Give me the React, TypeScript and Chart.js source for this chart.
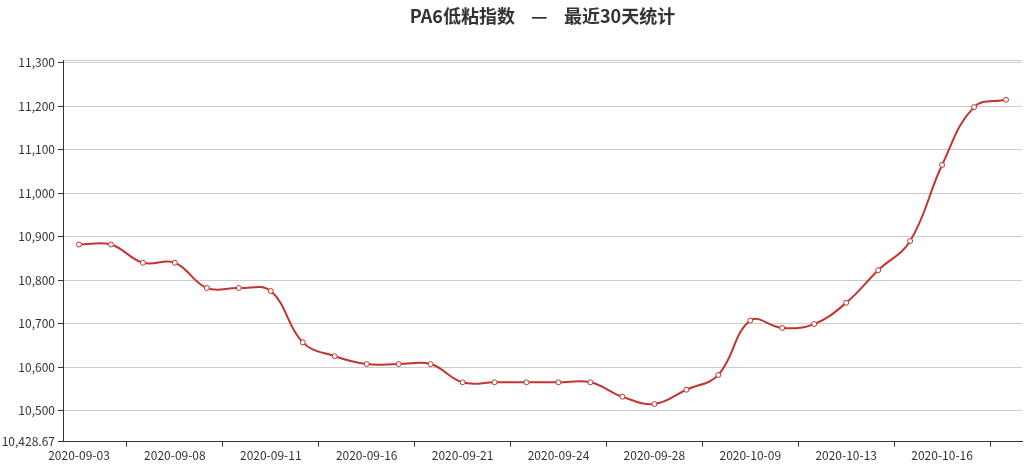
import React, { useEffect, useRef } from "react";
import { Chart, registerables } from "chart.js";

Chart.register(...registerables);

const dates = [
  "2020-09-03", "2020-09-04", "2020-09-07", "2020-09-08", "2020-09-09", "2020-09-10",
  "2020-09-11", "2020-09-14", "2020-09-15", "2020-09-16", "2020-09-17", "2020-09-18",
  "2020-09-21", "2020-09-22", "2020-09-23", "2020-09-24", "2020-09-25", "2020-09-27",
  "2020-09-28", "2020-09-29", "2020-09-30", "2020-10-09", "2020-10-10", "2020-10-12",
  "2020-10-13", "2020-10-14", "2020-10-15", "2020-10-16", "2020-10-19", "2020-10-20",
];

const indexValues = [
  10882, 10882, 10840, 10840, 10782, 10782,
  10775, 10657, 10625, 10607, 10607, 10607,
  10565, 10565, 10565, 10565, 10565, 10532,
  10515, 10548, 10582, 10707, 10690, 10699,
  10748, 10823, 10890, 11065, 11198, 11215,
];

const yMin = 10428.67;
const yMax = 11305;
const yTickValues = [10500, 10600, 10700, 10800, 10900, 11000, 11100, 11200, 11300];

const titleText = "PA6低粘指数    —    最近30天统计";
const FONT = "'Noto Sans CJK SC', 'Microsoft YaHei', sans-serif";

export default function App() {
  const ref = useRef<HTMLCanvasElement>(null);

  useEffect(() => {
    document.body.style.margin = "0";
    const canvas = ref.current;
    if (!canvas) return;
    const chart = new Chart(canvas, {
      type: "line",
      data: {
        labels: dates,
        datasets: [
          {
            label: "PA6低粘指数",
            data: indexValues,
            borderColor: "#c23531",
            backgroundColor: "#ffffff",
            borderWidth: 2,
            tension: 0.4,
            pointRadius: 2.5,
            pointBorderWidth: 1,
            pointBackgroundColor: "#ffffff",
            pointBorderColor: "#c23531",
            fill: false,
          },
        ],
      },
      options: {
        animation: false,
        responsive: false,
        layout: { padding: { left: 0, right: 4, top: 0, bottom: 1 } },
        plugins: {
          legend: { display: false },
          tooltip: { enabled: false },
          title: {
            display: true,
            text: titleText,
            fullSize: false,
            color: "#333333",
            font: { family: FONT, size: 18, weight: "bold" },
            padding: { top: 5, bottom: 34 },
          },
        },
        scales: {
          x: {
            type: "category",
            offset: true,
            grid: {
              offset: true,
              drawOnChartArea: false,
              tickLength: 5,
              color: (ctx: any) => (ctx.index % 3 === 2 ? "#333333" : "rgba(0,0,0,0)"),
            },
            border: { display: true, color: "#333333", width: 1 },
            ticks: {
              autoSkip: false,
              maxRotation: 0,
              minRotation: 0,
              padding: 2,
              color: "#333333",
              font: { family: FONT, size: 12 },
              callback: (_v: any, i: number) => (i % 3 === 0 ? dates[i] : ""),
            },
          },
          y: {
            type: "linear",
            min: yMin,
            max: yMax,
            afterBuildTicks: (scale: any) => {
              scale.ticks = [yMin, ...yTickValues, yMax].map((v) => ({ value: v }));
            },
            afterFit: (scale: any) => {
              scale.width = 63;
            },
            grid: {
              color: "#cccccc",
              tickLength: 5,
              tickColor: (ctx: any) =>
                ctx.tick && ctx.tick.value === yMax ? "rgba(0,0,0,0)" : "#333333",
            },
            border: { display: true, color: "#333333", width: 1 },
            ticks: {
              padding: 3,
              color: "#333333",
              font: { family: FONT, size: 12 },
              callback: (v: any) => {
                const n = Number(v);
                if (n === yMax) return "";
                if (n === yMin) return "10,428.67";
                return n.toLocaleString("en-US");
              },
            },
          },
        },
      },
    });
    return () => chart.destroy();
  }, []);

  return (
    <div style={{ width: 1027, height: 466 }}>
      <canvas ref={ref} width={1027} height={466} style={{ display: "block" }} />
    </div>
  );
}
